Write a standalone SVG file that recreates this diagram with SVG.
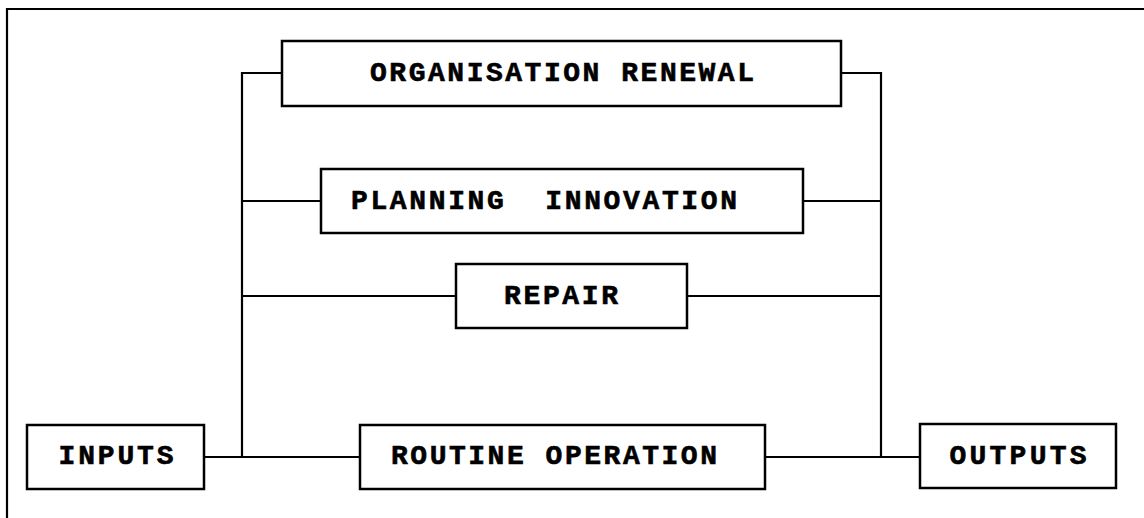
<svg xmlns="http://www.w3.org/2000/svg" width="1144" height="518" viewBox="0 0 1144 518">
<style>
.box{fill:#fff;stroke:#000;stroke-width:2.5}
.ln{fill:none;stroke:#000;stroke-width:2.2}
.t{font-family:"Liberation Mono","Courier New",monospace;font-weight:bold;font-size:28px;fill:#000;stroke:#000;stroke-width:0.6;text-anchor:middle}
</style>
<rect width="1144" height="518" fill="#fff"/>
<g id="frame"><path class="ln" d="M7,518 V9 H1144"/></g>
<g id="connectors">
<path class="ln" d="M282,73 H242 V457"/>
<path class="ln" d="M841,73 H881 V457"/>
<path class="ln" d="M242,201 H321 M803,201 H881"/>
<path class="ln" d="M242,296 H456 M687,296 H881"/>
<path class="ln" d="M204,457 H360 M765,457 H920"/>
</g>
<g id="organisation-renewal"><rect class="box" x="282" y="41" width="559" height="65"/><text class="t" x="562" y="81" textLength="384" lengthAdjust="spacing">ORGANISATION RENEWAL</text></g>
<g id="planning-innovation"><rect class="box" x="321" y="169" width="482" height="64"/><text class="t" x="544" y="209" textLength="386" lengthAdjust="spacing" xml:space="preserve">PLANNING  INNOVATION</text></g>
<g id="repair"><rect class="box" x="456" y="264" width="231" height="64"/><text class="t" x="561" y="304" textLength="114" lengthAdjust="spacing">REPAIR</text></g>
<g id="inputs"><rect class="box" x="27" y="425" width="177" height="64"/><text class="t" x="116" y="464" textLength="115" lengthAdjust="spacing">INPUTS</text></g>
<g id="routine-operation"><rect class="box" x="360" y="425" width="405" height="64"/><text class="t" x="554" y="464" textLength="326" lengthAdjust="spacing">ROUTINE OPERATION</text></g>
<g id="outputs"><rect class="box" x="920" y="424" width="196" height="64"/><text class="t" x="1018" y="464" textLength="137" lengthAdjust="spacing">OUTPUTS</text></g>
</svg>
